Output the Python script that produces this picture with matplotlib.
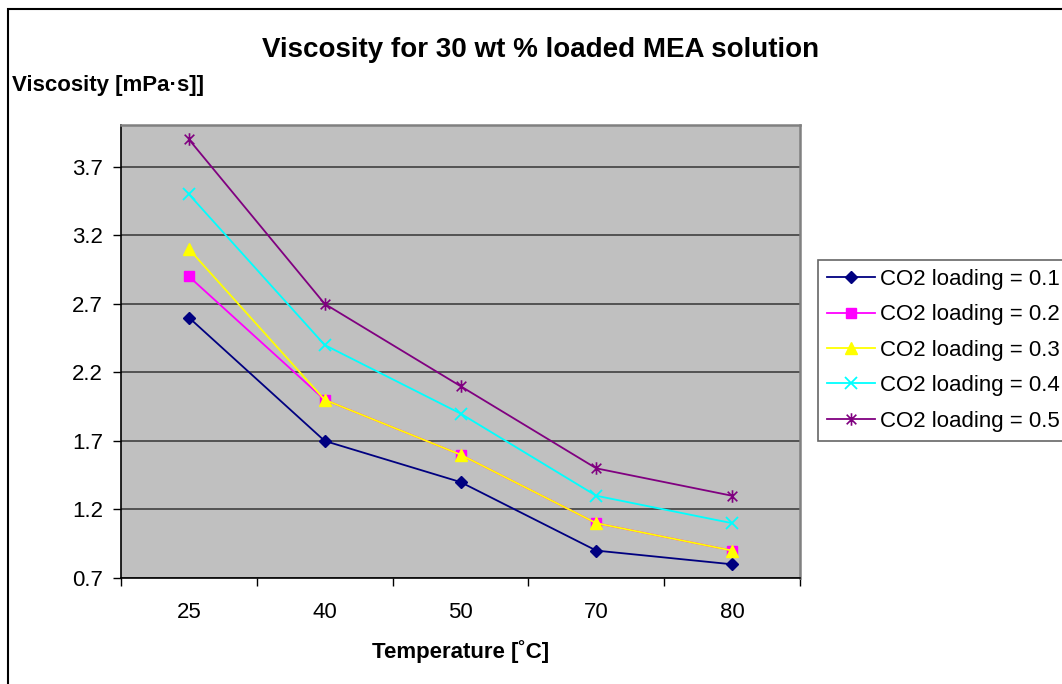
import numpy as np
import matplotlib.pyplot as plt
from matplotlib.path import Path
from matplotlib.patches import Rectangle

plt.rcParams['font.family'] = ['Liberation Sans', 'DejaVu Sans']

# data
temps = ['25', '40', '50', '70', '80']
load_01 = [2.6, 1.7, 1.4, 0.9, 0.8]
load_02 = [2.9, 2.0, 1.6, 1.1, 0.9]
load_03 = [3.1, 2.0, 1.6, 1.1, 0.9]
load_04 = [3.5, 2.4, 1.9, 1.3, 1.1]
load_05 = [3.9, 2.7, 2.1, 1.5, 1.3]
labels = ['CO2 loading = 0.1', 'CO2 loading = 0.2', 'CO2 loading = 0.3',
          'CO2 loading = 0.4', 'CO2 loading = 0.5']
yticks = [0.7, 1.2, 1.7, 2.2, 2.7, 3.2, 3.7]

# excel style star marker: an x with a vertical bar
star = Path([(-1, -1), (1, 1), (-1, 1), (1, -1), (0, -1.3), (0, 1.3)],
            [Path.MOVETO, Path.LINETO, Path.MOVETO, Path.LINETO, Path.MOVETO, Path.LINETO])

fig = plt.figure(figsize=(10.62, 6.84), dpi=100)
ax = fig.add_axes([121/1062, 1-578/684, (800-121)/1062, (578-125)/684])
ax.set_facecolor('#C0C0C0')

x = np.arange(len(temps))
ax.plot(x, load_01, color='#000080', marker='D', ms=6.5, lw=1.3, label=labels[0])
ax.plot(x, load_02, color='#FF00FF', marker='s', ms=7, lw=1.3, label=labels[1])
ax.plot(x, load_03, color='#FFFF00', marker='^', ms=8.5, lw=1.3, label=labels[2])
ax.plot(x, load_04, color='#00FFFF', marker='x', ms=8, mew=1.3, lw=1.3, label=labels[3])
ax.plot(x, load_05, color='#800080', marker=star, ms=9, mew=1.2, lw=1.3, label=labels[4])

ax.set_xlim(-0.5, len(temps)-0.5)
ax.set_ylim(0.7, 4.005)
ax.set_yticks(yticks)
ax.set_yticklabels(['%.1f' % v for v in yticks])
ax.yaxis.grid(True, color='#404040', lw=1.2)
ax.set_axisbelow(True)

# category ticks between the points, labels at the points
ax.set_xticks(np.arange(-0.5, len(temps), 1.0))
ax.set_xticklabels([])
ax.set_xticks(x, minor=True)
ax.set_xticklabels(temps, minor=True)
ax.tick_params(axis='x', which='major', length=6, direction='out', width=1)
ax.tick_params(axis='x', which='minor', length=0, pad=17, labelsize=16)
ax.tick_params(axis='y', length=6, direction='out', width=1, pad=7, labelsize=16)

for s in ['left', 'bottom']:
    ax.spines[s].set_color('black')
    ax.spines[s].set_linewidth(1.2)
for s in ['top', 'right']:
    ax.spines[s].set_color('#808080')
    ax.spines[s].set_linewidth(1.8)

fig.text(541/1062, 1-50/684, 'Viscosity for 30 wt % loaded MEA solution',
         fontsize=20, fontweight='bold', ha='center', va='center')
fig.text(12/1062, 1-86/684, 'Viscosity [mPa·s]]', fontsize=16, fontweight='bold',
         ha='left', va='center')
fig.text(461/1062, 1-652/684, 'Temperature [˚C]', fontsize=16, fontweight='bold',
         ha='center', va='center')

leg = fig.legend(loc='upper left', bbox_to_anchor=(818/1062, 1-260/684),
                 fontsize=16, frameon=True, fancybox=False, handlelength=2.15,
                 handletextpad=0.25, labelspacing=0.65, borderpad=0.4, borderaxespad=0)
leg.get_frame().set_edgecolor('#404040')
leg.get_frame().set_linewidth(1.2)

# outer chart border, cut off at the right and bottom
fig.patches.append(Rectangle((8/1062, -0.1), 2, 1.1-9/684, transform=fig.transFigure,
                             fill=False, edgecolor='black', lw=1.5))

fig.savefig('out.png', dpi=100)
